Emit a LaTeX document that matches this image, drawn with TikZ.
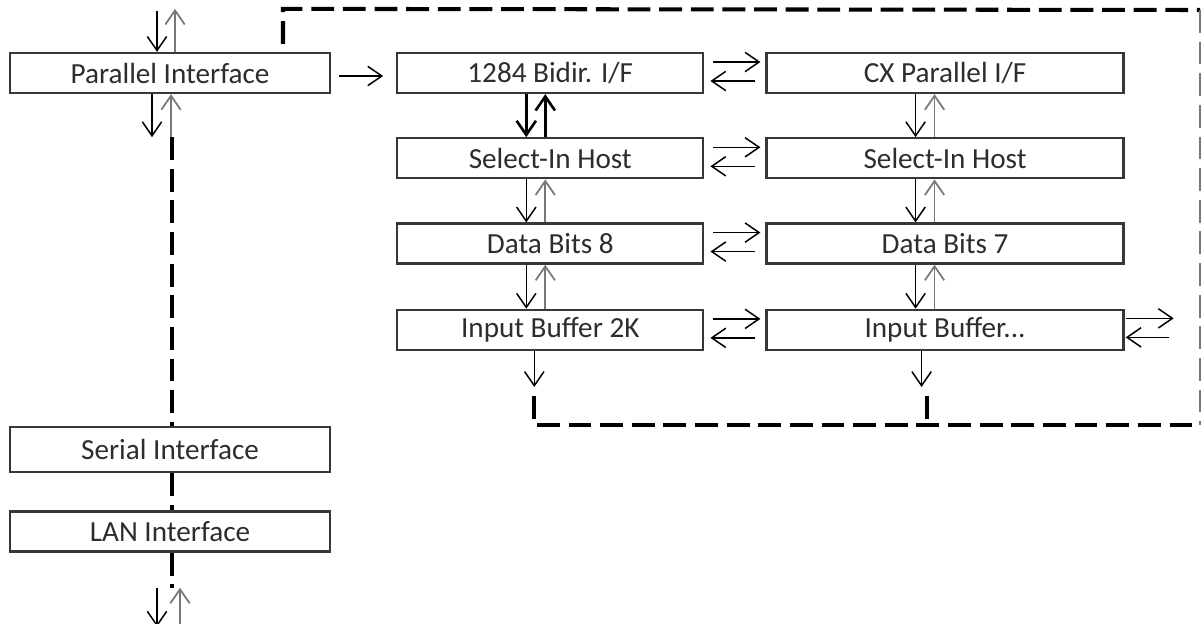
\documentclass[tikz,border=0pt]{standalone}
\usepackage{fontspec}
\setmainfont{Carlito}
\usetikzlibrary{arrows.meta, positioning}
\definecolor{boxgray}{RGB}{55, 55, 55}
\definecolor{txtgray}{RGB}{45, 45, 45}
\definecolor{upgray}{RGB}{120, 120, 120}

\begin{document}
\begin{tikzpicture}[
    box/.style={draw=boxgray, line width=1.3pt, fill=white, minimum height=0.8cm,
                inner sep=0pt, text=txtgray, font=\fontsize{16.6}{19}\selectfont},
    lbox/.style={box, minimum width=6.4cm},
    mbox/.style={box, minimum width=6.12cm},
    rbox/.style={box, minimum width=7.14cm},
    arr/.style={-{Straight Barb[length=8pt, width=11pt]}, line width=0.85pt},
    uparr/.style={arr, upgray, line width=1pt},
    bus/.style={line width=2.3pt, dash pattern=on 13pt off 5pt},
    thinbus/.style={line width=0.9pt, upgray, dash pattern=on 13pt off 5pt}
  ]
    \useasboundingbox (0,0) rectangle (24.06,-12.46);
    % left column
    \node[lbox] (pif) at (3.4,-1.46) {Parallel Interface};
    \node[lbox, minimum height=0.9cm, below=6.64cm of pif] (ser) {Serial Interface};
    \node[lbox, below=0.74cm of ser] (lan) {LAN Interface};
    % middle column
    \node[mbox, right=1.3cm of pif] (bidir) {1284 Bidir. I/F};
    \node[mbox, below=0.86cm of bidir] (selL) {Select-In Host};
    \node[mbox, below=0.86cm of selL] (datL) {Data Bits 8};
    \node[mbox, below=0.88cm of datL] (bufL) {Input Buffer 2K};
    % right column
    \node[rbox, right=1.22cm of bidir] (cxpar) {CX Parallel I/F};
    \node[rbox, right=1.22cm of selL] (selR) {Select-In Host};
    \node[rbox, right=1.22cm of datL] (datR) {Data Bits 7};
    \node[rbox, right=1.22cm of bufL] (bufR) {Input Buffer...};

    % free ends
    \coordinate (pinT) at ([yshift=0.82cm]pif.north);
    \coordinate (pinB) at ([yshift=-0.86cm]pif.south);
    \coordinate (lanB) at ([yshift=-0.7cm]lan.south);
    \coordinate (lanE) at ([yshift=-0.78cm]lanB);
    \coordinate (outR) at ([xshift=0.98cm]bufR.east);
    \coordinate (tapL) at ([xshift=-0.32cm]bufL.south);
    \coordinate (tapR) at ([xshift=-0.47cm]bufR.south);
    \coordinate (busA) at ([xshift=2.26cm, yshift=0.16cm]pif.north);
    \coordinate (busB) at ([xshift=2.26cm, yshift=0.86cm]pif.north);
    \coordinate (busC) at (24.0,-0.2);
    \coordinate (busD) at (24.0,-8.5);

    % parallel interface arrows
    \draw[arr] ([xshift=-0.26cm]pinT) -- ([xshift=-0.26cm]pif.north);
    \draw[uparr] ([xshift=0.1cm]pif.north) -- ([xshift=0.1cm, yshift=0.04cm]pinT);
    \draw[arr] ([xshift=-0.36cm]pif.south) -- ([xshift=-0.36cm]pinB);
    \draw[uparr] ([xshift=0.02cm]pinB) -- ([xshift=0.02cm]pif.south);
    \draw[arr] ([xshift=0.16cm, yshift=-0.06cm]pif.east) -- ([xshift=-0.26cm, yshift=-0.06cm]bidir.west);

    % vertical arrows
    \draw[arr, line width=1.5pt] ([xshift=-0.48cm]bidir.south) -- ([xshift=-0.48cm]selL.north);
    \draw[arr, line width=1.5pt] ([xshift=-0.1cm]selL.north) -- ([xshift=-0.1cm]bidir.south);
    \foreach \a/\b in {selL/datL, datL/bufL} {
      \draw[arr] ([xshift=-0.48cm]\a.south) -- ([xshift=-0.48cm]\b.north);
      \draw[uparr] ([xshift=-0.1cm]\b.north) -- ([xshift=-0.1cm]\a.south);
    }
    \foreach \a/\b in {cxpar/selR, selR/datR, datR/bufR} {
      \draw[arr] ([xshift=-0.59cm]\a.south) -- ([xshift=-0.59cm]\b.north);
      \draw[uparr] ([xshift=-0.21cm]\b.north) -- ([xshift=-0.21cm]\a.south);
    }

    % horizontal arrows
    \foreach \l/\r in {bidir/cxpar, selL/selR, datL/datR, bufL/bufR} {
      \draw[arr] ([xshift=0.18cm, yshift=0.22cm]\l.east) -- ([xshift=-0.1cm, yshift=0.22cm]\r.west);
      \draw[arr] ([xshift=-0.2cm, yshift=-0.16cm]\r.west) -- ([xshift=0.12cm, yshift=-0.16cm]\l.east);
    }
    \draw[arr] ([xshift=0.02cm, yshift=0.23cm]bufR.east) -- ([yshift=0.23cm]outR);
    \draw[arr] ([xshift=-0.1cm, yshift=-0.15cm]outR) -- ([xshift=0.02cm, yshift=-0.15cm]bufR.east);

    % buffer outputs
    \draw[arr] (tapL) -- ([yshift=-0.72cm]tapL);
    \draw[arr] (tapR) -- ([yshift=-0.72cm]tapR);

    % buses
    \draw[bus] ([xshift=0.04cm]pinB) -- ([xshift=0.04cm]ser.north);
    \draw[bus] ([xshift=0.04cm]ser.south) -- ([xshift=0.04cm]lan.north);
    \draw[bus] ([xshift=0.04cm]lan.south) -- ([xshift=0.04cm]lanB);
    \draw[arr] ([xshift=-0.26cm]lanB) -- ([xshift=-0.26cm]lanE);
    \draw[uparr] ([xshift=0.2cm]lanE) -- ([xshift=0.2cm]lanB);
    \draw[bus] (busA) -- (busB) -- (busC);
    \draw[thinbus] (busC) -- (busD);
    \draw[bus] ([yshift=-0.9cm]tapL) -- (tapL |- busD) -- (busD);
    \draw[bus] ([xshift=0.1cm, yshift=-0.9cm]tapR) -- ([xshift=0.1cm]tapR |- busD);
  \end{tikzpicture}
\end{document}
